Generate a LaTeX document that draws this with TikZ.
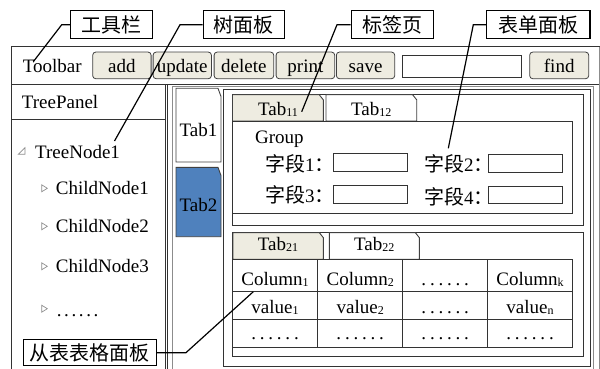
\documentclass[tikz,border=0pt]{standalone}
\usepackage{fontspec}
\setmainfont{Liberation Serif}
\newfontfamily\cjk{Noto Sans CJK SC}
\definecolor{beige}{HTML}{EEECE1}
\definecolor{tabblue}{HTML}{4F81BD}
\newcommand\fs{\fontsize{19pt}{22pt}\selectfont}
\newcommand\cjf{\cjk\fontsize{20pt}{22pt}\selectfont}
\newcommand\sbx[1]{\raisebox{-1.5pt}{\fontsize{12pt}{12pt}\selectfont #1}}
\newcommand\dts[1]{.\kern#1.\kern#1.\kern#1.\kern#1.\kern#1.}
\newcommand\htab[5]{\filldraw[tabline, fill=#5] (#1,#4) -- (#1,#2) -- ({#3-4},#2) -- (#3,{#2+5}) -- (#3,#4) -- cycle;}
\begin{document}
\begin{tikzpicture}[x=1pt,y=-1pt,
  every node/.style={font=\fs},
  frame/.style={draw=black!80, line width=0.9pt},
  gframe/.style={draw=black!45, line width=0.9pt},
  tabline/.style={draw=black!75, line width=0.9pt},
  btn/.style={draw=black!75, fill=beige, rounded corners=3pt, line width=0.8pt, inner sep=0pt, anchor=north west, minimum height=26.6pt, text height=17.5pt, text depth=4pt},
  inbox/.style={draw=black!80, fill=white, line width=0.9pt, inner sep=0pt, anchor=north west},
  lbl/.style={draw=black, line width=1.2pt, fill=white, inner sep=0pt, anchor=north west, minimum height=28.3pt, font=\cjf},
  txt/.style={inner sep=0pt, anchor=base west},
  ctxt/.style={inner sep=0pt, anchor=base},
  leader/.style={draw=black, line width=1.2pt},
  marker/.style={draw=black!45, line width=0.7pt}]
\useasboundingbox (0,0) rectangle (600,369);
\clip (0,0) rectangle (600,369);
% window
\draw[frame] (11,372) -- (11,46.7) -- (600,46.7);
\draw[gframe] (599.3,46.7) -- (599.3,372);
\draw[frame] (11,84.5) -- (599.3,84.5);
% toolbar
\node[txt] (tb) at (22.7,72.3) {Toolbar};
\node[btn, minimum width=58.4pt] (add) at (92.3,51.7) {add};
\node[btn, minimum width=58.3pt] (upd) at (152.7,51.7) {update};
\node[btn, minimum width=59.6pt] (del) at (213.7,51.7) {delete};
\node[btn, minimum width=58.6pt] (prt) at (275.7,51.7) {print};
\node[btn, minimum width=58.3pt] (sav) at (336,51.7) {save};
\node[inbox, minimum width=119pt, minimum height=21.7pt] (fld) at (401.7,55) {};
\node[btn, minimum width=59pt] (fnd) at (529.3,51.7) {find};
% tree panel
\draw[frame] (11,119) -- (165.3,119);
\draw[frame, line width=1.1pt] (165.3,84.5) -- (165.3,372);
\draw[frame, line width=1.1pt] (167.6,84.5) -- (167.6,372);
\node[txt] (tp) at (21.7,108.3) {TreePanel};
\draw[marker] (18.3,154.3) -- (25,154.3) -- (25,147.6) -- cycle;
\node[txt] (tn1) at (35,158.3) {TreeNode1};
\foreach \c in {188.3,226.3,266.3,308.7}{
  \draw[marker] (41.7,\c-3.5) -- (47.3,\c) -- (41.7,\c+3.5) -- cycle;}
\node[txt] (cn1) at (55.7,194.3) {ChildNode1};
\node[txt] (cn2) at (55.7,232.7) {ChildNode2};
\node[txt] (cn3) at (55.7,272.7) {ChildNode3};
\node[txt] (cnd) at (56.7,316) {\dts{2.6pt}};
% tab panel
\draw[gframe] (172,372) -- (172,86.5) -- (593.3,86.5) -- (593.3,372);
\draw[frame] (223.3,89.3) rectangle (590,366.5);
\filldraw[tabline, fill=white] (176,162) -- (176,88.3) -- (218,88.3) -- (221,96.5) -- (221,162) -- cycle;
\node[ctxt] (t1) at (198.5,136) {Tab1};
\filldraw[tabline, fill=tabblue] (176,236.7) -- (176,167.3) -- (218,167.3) -- (221,175.5) -- (221,236.7) -- cycle;
\node[ctxt] (t2) at (198.5,211) {Tab2};
% sub panel 1
\draw[frame] (232.5,94.5) rectangle (583,225);
\htab{232.5}{94.8}{323.3}{121}{beige}
\htab{326}{94.8}{416.7}{121}{white}
\node[ctxt] (t11) at (278,115) {Tab\sbx{11}};
\node[ctxt] (t12) at (371.3,115) {Tab\sbx{12}};
\draw[frame] (232.5,121) rectangle (572.3,213.3);
\node[txt] (grp) at (255,143.3) {Group};
\node[txt] (f1) at (265,171) {{\cjf 字段}1{\cjf ：}};
\node[txt] (f2) at (424,171.5) {{\cjf 字段}2{\cjf ：}};
\node[txt] (f3) at (265,202.6) {{\cjf 字段}3{\cjf ：}};
\node[txt] (f4) at (424,204) {{\cjf 字段}4{\cjf ：}};
\node[inbox, minimum width=73.4pt, minimum height=17.7pt] (in1) at (333.3,153.3) {};
\node[inbox, minimum width=74pt, minimum height=17.7pt] (in2) at (488.3,154) {};
\node[inbox, minimum width=73.4pt, minimum height=17.4pt] (in3) at (333.3,185.3) {};
\node[inbox, minimum width=74pt, minimum height=17.3pt] (in4) at (488.3,186) {};
% sub panel 2
\draw[frame] (232.5,232.3) rectangle (583,356.7);
\htab{233}{232.6}{323.3}{259.3}{beige}
\htab{329.3}{232.6}{419.3}{259.3}{white}
\node[ctxt] (t21) at (278,250) {Tab\sbx{21}};
\node[ctxt] (t22) at (374.3,250) {Tab\sbx{22}};
\draw[frame] (232.3,259.3) rectangle (572.3,347.7);
\draw[frame] (232.3,291) -- (572.3,291);
\draw[frame] (232.3,319.3) -- (572.3,319.3);
\foreach \x in {317.7,402.7,487.7}{\draw[frame] (\x,259.3) -- (\x,347.7);}
\node[ctxt] (h1) at (275,285) {Column\sbx{1}};
\node[ctxt] (h2) at (360.2,285) {Column\sbx{2}};
\node[ctxt] (h3) at (445.2,285) {\dts{3.8pt}};
\node[ctxt] (h4) at (530,285) {Column\sbx{k}};
\node[ctxt] (v1) at (275,313.3) {value\sbx{1}};
\node[ctxt] (v2) at (360.2,313.3) {value\sbx{2}};
\node[ctxt] (v3) at (445.2,313.3) {\dts{3.8pt}};
\node[ctxt] (v4) at (530,313.3) {value\sbx{n}};
\node[ctxt] (d1) at (275,339.3) {\dts{3.8pt}};
\node[ctxt] (d2) at (360.2,339.3) {\dts{3.8pt}};
\node[ctxt] (d3) at (445.2,339.3) {\dts{3.8pt}};
\node[ctxt] (d4) at (530,339.3) {\dts{3.8pt}};
% callouts
\node[lbl, minimum width=81.7pt] (l1) at (70,10) {工具栏};
\node[lbl, minimum width=81pt] (l2) at (202.7,10) {树面板};
\node[lbl, minimum width=82pt] (l3) at (350.7,10) {标签页};
\node[lbl, minimum width=103.3pt] (l4) at (486,10) {表单面板};
\node[lbl, minimum width=133.3pt, minimum height=25.7pt, line width=1pt] (l5) at (22.7,339.3) {从表表格面板};
\coordinate (e1) at (33.3,61.7);
\coordinate (e2) at (114.5,141);
\coordinate (e3) at (301.7,111.7);
\coordinate (e4) at (448.3,148.3);
\coordinate (e5) at (253.3,291.7);
\draw[leader] (l1.west) -- ++(-8.3,0) -- (e1);
\draw[leader] (l2.west) -- ++(-22.7,0) -- (e2);
\draw[leader] (l3.west) -- ++(-13.7,0) -- (e3);
\draw[leader] (l4.west) -- ++(-12.7,0) -- (e4);
\draw[leader] (l5.east) -- ++(29,0) -- (e5);
\end{tikzpicture}
\end{document}
